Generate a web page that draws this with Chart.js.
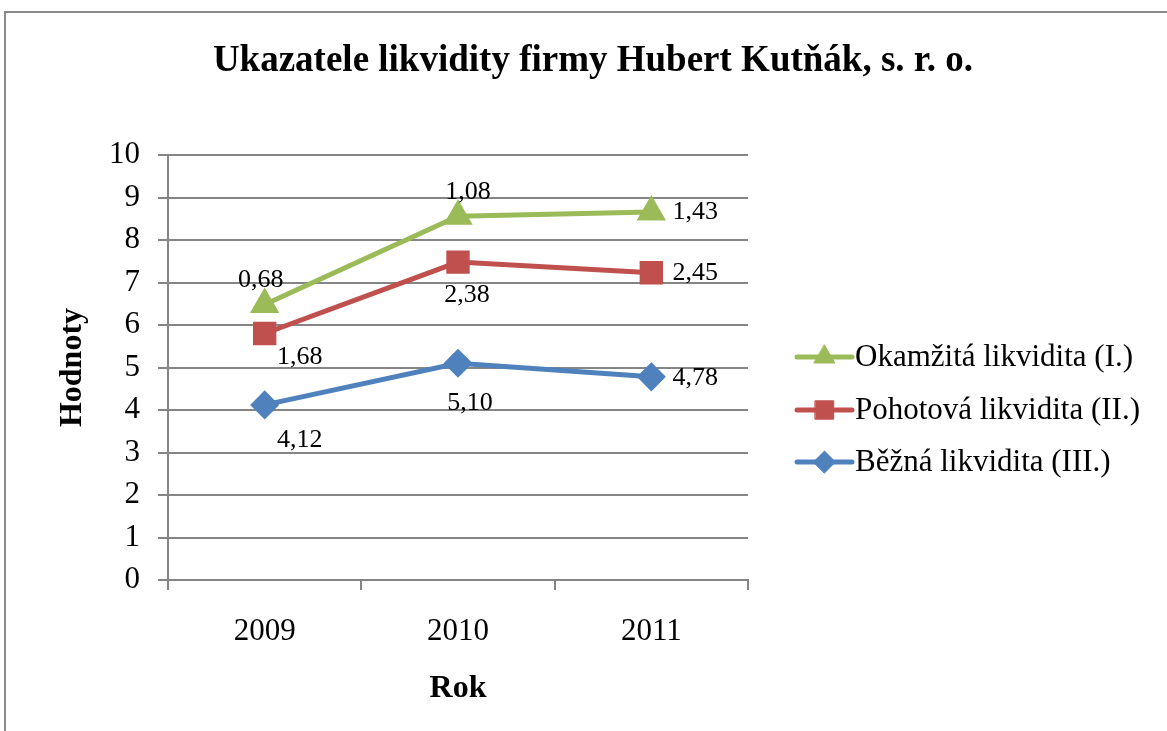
<!DOCTYPE html>
<html lang="cs">
<head>
  <meta charset="UTF-8">
  <title>Ukazatele likvidity</title>
  <style>
    html, body {
      margin: 0;
      padding: 0;
      background: #fff;
      overflow: hidden;
    }
    .frame {
      position: absolute;
      left: 4px;
      top: 11px;
      width: 1300px;
      height: 900px;
      border-left: 2px solid #8a8a8a;
      border-top: 2px solid #8a8a8a;
    }
    canvas {
      position: absolute;
      left: 0;
      top: 0;
    }
  </style>
</head>
<body>
  <div class="frame"></div>
  <canvas id="chart" width="1167" height="731"></canvas>

  <script src="https://cdn.jsdelivr.net/npm/chart.js"></script>
  <script>
    // data (stacked line chart, labels show own value)
    const years = ['2009', '2010', '2011'];
    const bezna = [4.12, 5.10, 4.78];
    const pohotova = [1.68, 2.38, 2.45];
    const okamzita = [0.68, 1.08, 1.43];
    const yTicks = [0, 1, 2, 3, 4, 5, 6, 7, 8, 9, 10];

    const serif = "'Liberation Serif', 'Times New Roman', serif";
    const gridGray = '#858585';

    // label offsets from the marker (dx, dy), per series / per point
    const labelOffsets = {
      okamzita: [[-4, -24], [10, -24], [44, 0]],
      pohotova: [[35, 24], [9, 33], [44, 0]],
      bezna: [[35, 35], [12, 40], [44, 1]]
    };

    const titlePlugin = {
      id: 'mainTitle',
      afterDraw(chart) {
        const ctx = chart.ctx;
        ctx.save();
        ctx.font = 'bold 37px ' + serif;
        ctx.fillStyle = '#000';
        ctx.textAlign = 'center';
        ctx.textBaseline = 'middle';
        ctx.fillText('Ukazatele likvidity firmy Hubert Kutňák, s. r. o.', 593, 61);
        ctx.restore();
      }
    };

    const valueLabels = {
      id: 'valueLabels',
      afterDatasetsDraw(chart) {
        const ctx = chart.ctx;
        ctx.save();
        ctx.font = '26px ' + serif;
        ctx.fillStyle = '#000';
        ctx.textAlign = 'center';
        ctx.textBaseline = 'middle';
        chart.data.datasets.forEach((ds, i) => {
          const meta = chart.getDatasetMeta(i);
          meta.data.forEach((pt, j) => {
            const off = labelOffsets[ds.key][j];
            const txt = ds.data[j].toFixed(2).replace('.', ',');
            ctx.fillText(txt, pt.x + off[0], pt.y + off[1]);
          });
        });
        ctx.restore();
      }
    };

    const sideLegend = {
      id: 'sideLegend',
      afterDraw(chart) {
        const ctx = chart.ctx;
        const order = [2, 1, 0];
        const x0 = 797, x1 = 852, rowY = [357, 410, 462];
        ctx.save();
        order.forEach((idx, r) => {
          const ds = chart.data.datasets[idx];
          const y = rowY[r];
          ctx.strokeStyle = ds.borderColor;
          ctx.lineWidth = 5;
          ctx.lineCap = 'round';
          ctx.beginPath();
          ctx.moveTo(x0, y);
          ctx.lineTo(x1, y);
          ctx.stroke();
          ctx.fillStyle = ds.backgroundColor;
          ctx.strokeStyle = ds.backgroundColor;
          ctx.lineWidth = 1;
          Chart.helpers.drawPoint(ctx, {
            pointStyle: ds.pointStyle,
            radius: ds.pointRadius,
            borderWidth: 1
          }, (x0 + x1) / 2, y);
          ctx.fillStyle = '#000';
          ctx.font = '31px ' + serif;
          ctx.textAlign = 'left';
          ctx.textBaseline = 'middle';
          ctx.fillText(ds.label, x1 + 3, y + 1);
        });
        ctx.restore();
      }
    };

    new Chart(document.getElementById('chart'), {
      type: 'line',
      data: {
        labels: years,
        datasets: [
          {
            key: 'bezna',
            label: 'Běžná likvidita (III.)',
            data: bezna,
            borderColor: '#4f81bd',
            backgroundColor: '#4f81bd',
            pointStyle: 'rectRot',
            pointRadius: 11,
            borderWidth: 5
          },
          {
            key: 'pohotova',
            label: 'Pohotová likvidita (II.)',
            data: pohotova,
            borderColor: '#c0504d',
            backgroundColor: '#c0504d',
            pointStyle: 'rect',
            pointRadius: 13,
            borderWidth: 5
          },
          {
            key: 'okamzita',
            label: 'Okamžitá likvidita (I.)',
            data: okamzita,
            borderColor: '#9bbb59',
            backgroundColor: '#9bbb59',
            pointStyle: 'triangle',
            pointRadius: 12,
            borderWidth: 5
          }
        ]
      },
      options: {
        responsive: false,
        animation: false,
        tension: 0,
        elements: {
          point: { borderWidth: 1, hoverRadius: 12 },
          line: { fill: false }
        },
        layout: {
          padding: { left: 0, top: 155, right: 419, bottom: 0 }
        },
        plugins: {
          legend: { display: false },
          title: { display: false },
          tooltip: { enabled: false }
        },
        scales: {
          x: {
            offset: true,
            grid: {
              offset: true,
              drawOnChartArea: false,
              drawTicks: true,
              tickLength: 10,
              color: gridGray,
              lineWidth: 2
            },
            border: { display: true, color: gridGray, width: 2 },
            ticks: {
              color: '#000',
              font: { family: serif, size: 31 },
              padding: 23
            },
            title: {
              display: true,
              text: 'Rok',
              color: '#000',
              font: { family: serif, size: 32, weight: 'bold' },
              padding: { top: 0, bottom: 23 }
            },
            afterFit(scale) { scale.height = 151; }
          },
          y: {
            stacked: true,
            min: 0,
            max: 10,
            afterBuildTicks(scale) {
              scale.ticks = yTicks.map(v => ({ value: v }));
            },
            grid: {
              color: gridGray,
              lineWidth: 2,
              tickLength: 10
            },
            border: { display: true, color: gridGray, width: 2 },
            ticks: {
              color: '#000',
              font: { family: serif, size: 31 },
              padding: 18
            },
            title: {
              display: true,
              text: 'Hodnoty',
              color: '#000',
              font: { family: serif, size: 32, weight: 'bold' },
              padding: { top: 54, bottom: 0 }
            },
            afterFit(scale) { scale.width = 168; }
          }
        }
      },
      plugins: [titlePlugin, valueLabels, sideLegend]
    });
  </script>
</body>
</html>
